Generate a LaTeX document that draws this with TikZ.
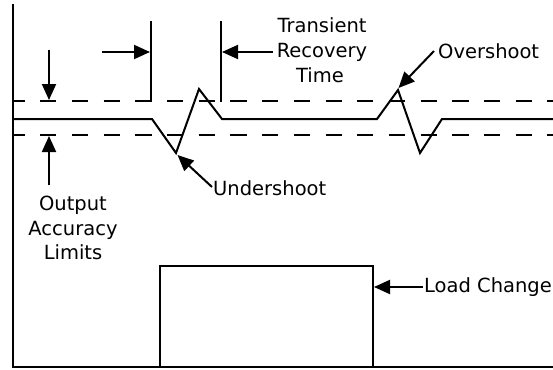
\documentclass[tikz,border=0pt]{standalone}
\usepackage{fontspec}
\setmainfont{DejaVu Sans}
\usetikzlibrary{arrows.meta}
\tikzset{
  ln/.style={line width=2pt, black},
  dsh/.style={line width=2.2pt, black, dash pattern=on 16.2pt off 15.5pt, dash phase=4.5pt},
  arr/.style={line width=2pt, black, -{Triangle[length=16pt,width=14pt]}},
  lbl/.style={inner sep=0pt, font=\fontsize{19.5}{24}\selectfont, text=black},
}
\begin{document}
\begin{tikzpicture}[x=1pt,y=-1pt]
\useasboundingbox (0,0) rectangle (553,369);
% axes
\coordinate (axtop) at (13,4);
\coordinate (axorig) at (13,367);
\coordinate (axright) at (553,367);
\draw[ln] (axtop) -- (axorig) -- (axright);
% dashed limits
\coordinate (upL) at (13,101);
\coordinate (upR) at (553,101);
\coordinate (loL) at (13,135);
\coordinate (loR) at (553,135);
\draw[dsh] (upL) -- (upR);
\draw[dsh] (loL) -- (loR);
% waveform
\coordinate (w0) at (13,119);
\coordinate (w1) at (152,119);
\coordinate (w2) at (176,153);
\coordinate (w3) at (199,89);
\coordinate (w4) at (222,119);
\coordinate (w5) at (377,119);
\coordinate (w6) at (398,90);
\coordinate (w7) at (420,153);
\coordinate (w8) at (442,119);
\coordinate (w9) at (553,119);
\draw[ln, line join=miter] (w0) -- (w1) -- (w2) -- (w3) -- (w4) -- (w5) -- (w6) -- (w7) -- (w8) -- (w9);
% recovery ticks
\coordinate (t1top) at (151,21.5);
\coordinate (t1bot) at (151,102);
\coordinate (t2top) at (221,21.5);
\coordinate (t2bot) at (221,102);
\draw[ln] (t1top) -- (t1bot);
\draw[ln] (t2top) -- (t2bot);
\coordinate (a1tail) at (102,52);
\coordinate (a1tip) at (150,52);
\coordinate (a2tail) at (273,52);
\coordinate (a2tip) at (222,52);
\draw[arr] (a1tail) -- (a1tip);
\draw[arr] (a2tail) -- (a2tip);
% accuracy arrows
\coordinate (d1tail) at (49,50);
\coordinate (d1tip) at (49,100);
\coordinate (d2tail) at (49,185);
\coordinate (d2tip) at (49,136);
\draw[arr] (d1tail) -- (d1tip);
\draw[arr] (d2tail) -- (d2tip);
% labels
\node[lbl, anchor=base] (tr1) at (322,33) {Transient};
\node[lbl, anchor=base] (tr2) at (322,57.5) {Recovery};
\node[lbl, anchor=base] (tr3) at (320,82) {Time};
\node[lbl, anchor=base west] (ov) at (438,59) {Overshoot};
\node[lbl, anchor=base west] (un) at (213,195) {Undershoot};
\node[lbl, anchor=base] (oa1) at (73,210) {Output};
\node[lbl, anchor=base] (oa2) at (73,235) {Accuracy};
\node[lbl, anchor=base] (oa3) at (73,259) {Limits};
\node[lbl, anchor=base west] (lc) at (424,292) {Load Change};
% overshoot / undershoot arrows
\coordinate (ovtail) at (434,51);
\coordinate (ovtip) at (398.5,88);
\draw[arr] (ovtail) -- (ovtip);
\coordinate (untail) at (212,187);
\coordinate (untip) at (177.5,155);
\draw[arr] (untail) -- (untip);
% load box
\coordinate (b1) at (160,367);
\coordinate (b2) at (160,266);
\coordinate (b3) at (373,266);
\coordinate (b4) at (373,367);
\draw[ln] (b1) -- (b2) -- (b3) -- (b4);
\coordinate (lctail) at (423,287);
\coordinate (lctip) at (374,287);
\draw[arr] (lctail) -- (lctip);
\end{tikzpicture}
\end{document}
